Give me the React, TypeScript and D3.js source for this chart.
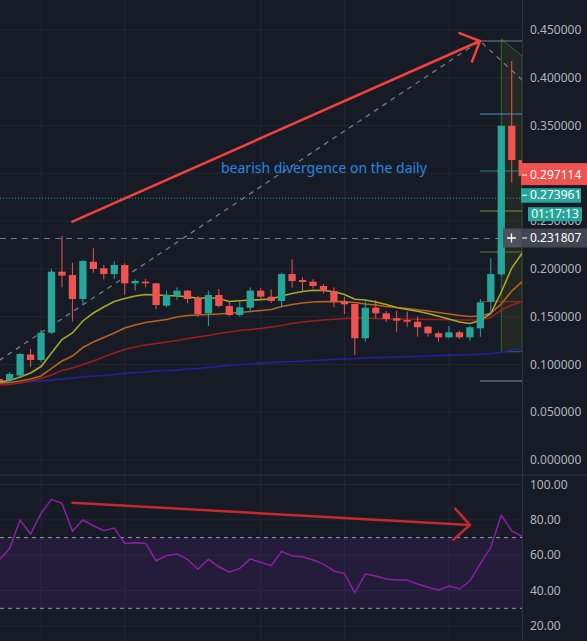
import React from 'react';
import * as d3 from 'd3';

const W = 587;
const H = 641;

const openP = [
  0.0848, 0.0837, 0.0884, 0.1104, 0.1047, 0.1332, 0.1971, 0.1936, 0.1685, 0.2075,
  0.2006, 0.1946, 0.2041, 0.1849, 0.1866, 0.1849, 0.1615, 0.1719, 0.1772, 0.1692,
  0.1535, 0.1727, 0.1612, 0.1517, 0.1594, 0.1772, 0.1709, 0.1664, 0.1946, 0.1884,
  0.1866, 0.1821, 0.1769, 0.1657, 0.1633, 0.1274, 0.1594, 0.1535, 0.1483, 0.1465,
  0.1447, 0.1395, 0.1326, 0.1284, 0.1336, 0.1284, 0.1378, 0.1657, 0.1943, 0.3498, 0.3139,
];
const highP = [
  0.0869, 0.0921, 0.1120, 0.1162, 0.1360, 0.1999, 0.2347, 0.2065, 0.2093, 0.2215,
  0.2041, 0.2082, 0.2058, 0.1891, 0.1894, 0.1852, 0.1772, 0.1807, 0.1779, 0.1716,
  0.1772, 0.1789, 0.1657, 0.1657, 0.1807, 0.1797, 0.1786, 0.1960, 0.2100, 0.1912,
  0.1891, 0.1839, 0.1807, 0.1709, 0.1633, 0.1685, 0.1674, 0.1559, 0.1559, 0.1552,
  0.1500, 0.1402, 0.1343, 0.1402, 0.1353, 0.1402, 0.1685, 0.2111, 0.3498, 0.4175, 0.3150,
];
const lowP = [
  0.0806, 0.0827, 0.0869, 0.0973, 0.1026, 0.1319, 0.1807, 0.1447, 0.1633, 0.1960,
  0.1891, 0.1894, 0.1727, 0.1772, 0.1807, 0.1580, 0.1598, 0.1674, 0.1640, 0.1500,
  0.1402, 0.1598, 0.1507, 0.1500, 0.1562, 0.1674, 0.1646, 0.1598, 0.1803, 0.1772,
  0.1797, 0.1744, 0.1598, 0.1528, 0.1099, 0.1238, 0.1483, 0.1447, 0.1343, 0.1395,
  0.1290, 0.1290, 0.1238, 0.1274, 0.1266, 0.1248, 0.1290, 0.1517, 0.1925, 0.2902, 0.2951,
];
const closeP = [
  0.0827, 0.0900, 0.1109, 0.1047, 0.1332, 0.1971, 0.1929, 0.1685, 0.2082, 0.1999,
  0.1946, 0.2041, 0.1849, 0.1873, 0.1849, 0.1622, 0.1727, 0.1772, 0.1685, 0.1528,
  0.1727, 0.1612, 0.1517, 0.1598, 0.1772, 0.1709, 0.1664, 0.1946, 0.1873, 0.1863,
  0.1821, 0.1769, 0.1657, 0.1629, 0.1274, 0.1594, 0.1535, 0.1476, 0.1458, 0.1447,
  0.1389, 0.1326, 0.1284, 0.1336, 0.1284, 0.1389, 0.1650, 0.1946, 0.3498, 0.3139, 0.2971,
];

const maFast = [
  0.0816, 0.0832, 0.0869, 0.0910, 0.0978, 0.1120, 0.1261, 0.1329, 0.1455, 0.1538,
  0.1601, 0.1659, 0.1690, 0.1716, 0.1732, 0.1727, 0.1721, 0.1716, 0.1709, 0.1692,
  0.1698, 0.1690, 0.1659, 0.1667, 0.1674, 0.1678, 0.1685, 0.1716, 0.1742, 0.1763,
  0.1776, 0.1774, 0.1761, 0.1732, 0.1682, 0.1674, 0.1653, 0.1627, 0.1596, 0.1575,
  0.1556, 0.1533, 0.1504, 0.1476, 0.1444, 0.1428, 0.1460, 0.1533, 0.1758, 0.2009, 0.2166,
];
const maMid = [
  0.0806, 0.0811, 0.0827, 0.0848, 0.0879, 0.0958, 0.1036, 0.1088, 0.1177, 0.1235,
  0.1282, 0.1329, 0.1381, 0.1413, 0.1439, 0.1455, 0.1470, 0.1496, 0.1512, 0.1517,
  0.1523, 0.1528, 0.1535, 0.1544, 0.1554, 0.1565, 0.1575, 0.1606, 0.1627, 0.1643,
  0.1653, 0.1657, 0.1657, 0.1657, 0.1648, 0.1633, 0.1622, 0.1606, 0.1596, 0.1585,
  0.1573, 0.1559, 0.1544, 0.1528, 0.1512, 0.1502, 0.1507, 0.1538, 0.1633, 0.1769, 0.1866,
];
const maSlow = [
  0.0785, 0.0790, 0.0806, 0.0827, 0.0853, 0.0890, 0.0937, 0.0963, 0.0999, 0.1036,
  0.1078, 0.1120, 0.1156, 0.1183, 0.1203, 0.1219, 0.1235, 0.1251, 0.1272, 0.1287,
  0.1303, 0.1324, 0.1340, 0.1355, 0.1366, 0.1376, 0.1392, 0.1408, 0.1428, 0.1444,
  0.1455, 0.1465, 0.1473, 0.1479, 0.1483, 0.1483, 0.1481, 0.1478, 0.1476, 0.1476,
  0.1473, 0.1472, 0.1470, 0.1468, 0.1465, 0.1465, 0.1465, 0.1491, 0.1570, 0.1622, 0.1659,
];
const maLong = [
  0.0801, 0.0806, 0.0811, 0.0816, 0.0827, 0.0837, 0.0848, 0.0858, 0.0869, 0.0879,
  0.0884, 0.0895, 0.0905, 0.0916, 0.0921, 0.0931, 0.0937, 0.0942, 0.0952, 0.0958,
  0.0968, 0.0978, 0.0989, 0.0999, 0.1005, 0.1015, 0.1020, 0.1026, 0.1031, 0.1036,
  0.1041, 0.1047, 0.1054, 0.1057, 0.1062, 0.1067, 0.1071, 0.1075, 0.1078, 0.1081,
  0.1085, 0.1088, 0.1092, 0.1096, 0.1099, 0.1102, 0.1106, 0.1112, 0.1130, 0.1151, 0.1169,
];

const rsi = [
  57.3, 63.9, 79.9, 72.0, 83.7, 91.6, 89.4, 73.7, 79.9, 76.7,
  73.9, 75.4, 66.7, 67.1, 66.7, 56.9, 59.7, 60.7, 57.7, 52.1,
  57.7, 53.5, 50.4, 52.6, 57.9, 56.0, 54.1, 62.2, 59.6, 59.2,
  57.3, 55.0, 51.1, 49.8, 38.8, 49.4, 48.3, 46.6, 46.0, 46.0,
  43.7, 41.9, 40.4, 42.6, 40.9, 45.4, 55.3, 64.5, 82.7, 73.7, 70.6,
];

const priceTicks = [0, 0.05, 0.1, 0.15, 0.2, 0.25, 0.3, 0.35, 0.4, 0.45];
const rsiTicks = [20, 40, 60, 80, 100];
const rsiBands = [70, 30];
const timeGridIdx = [4, 12, 25, 33, 43];

// horizontal levels drawn from candle 46 to the right edge
const levelValues = [0.4385, 0.3621, 0.3024, 0.2606, 0.2177, 0.1657, 0.0827];
const levelColors = ['#787b86', '#4f8fd8', '#1f8f84', '#6f9a3a', '#5f7a3c', '#9c2a2a', '#8a8d96'];

const lastPrice = 0.297114;
const linePrice = 0.273961;
const crossPrice = 0.231807;
const countdown = '01:17:13';
const note = 'bearish divergence on the daily';

const BG = '#171b26';
const GRID = '#232733';
const TXT = '#b2b5be';
const UP = '#26a69a';
const DOWN = '#ef5350';
const FONT = '"Noto Sans", sans-serif';

const CHART_R = 522;

function arrowHead(fx: number, fy: number, tx: number, ty: number, len: number) {
  const a = Math.atan2(fy - ty, fx - tx);
  const p1 = [tx + len * Math.cos(a + Math.PI / 4), ty + len * Math.sin(a + Math.PI / 4)];
  const p2 = [tx + len * Math.cos(a - Math.PI / 4), ty + len * Math.sin(a - Math.PI / 4)];
  return `M${p1[0]},${p1[1]}L${tx},${ty}L${p2[0]},${p2[1]}`;
}

export default function App() {
  const x = d3.scaleLinear().domain([0, 50]).range([-0.8, 522.2]);
  const y = d3.scaleLinear().domain([0, 0.45]).range([460, 30]);
  const yr = d3.scaleLinear().domain([20, 100]).range([626, 484.5]);
  const bw = 7.3;

  const idx = d3.range(openP.length);
  const maLine = (arr: number[]) =>
    d3.line<number>().x((_, i) => x(i)).y((d) => y(d))(arr) || '';
  const rsiLine = d3.line<number>().x((_, i) => x(i)).y((d) => yr(d))(rsi) || '';

  const fmtP = (v: number) => v.toFixed(6);

  const pa = { fx: x(7), fy: y(0.2494), tx: x(46) - 0.4, ty: y(0.4385) };
  const ra = { fx: x(7), fy: yr(89.7), tx: x(45), ty: yr(77.1) };

  return (
    <div style={{ position: 'absolute', left: 0, top: 0 }}>
      <svg width={W} height={H} style={{ display: 'block', background: BG }}>
        <defs>
          <clipPath id="pc">
            <rect x={0} y={0} width={CHART_R} height={474} />
          </clipPath>
          <clipPath id="rc">
            <rect x={0} y={476} width={CHART_R} height={H - 476} />
          </clipPath>
        </defs>
        <rect x={0} y={0} width={W} height={H} fill={BG} />

        {priceTicks.map((t) => (
          <line key={'pg' + t} x1={0} x2={CHART_R} y1={y(t)} y2={y(t)} stroke={GRID} strokeWidth={1} />
        ))}
        {timeGridIdx.map((i) => (
          <line key={'tg' + i} x1={x(i)} x2={x(i)} y1={0} y2={H} stroke={GRID} strokeWidth={1} />
        ))}
        {rsiTicks.map((t) => (
          <line key={'rg' + t} x1={0} x2={CHART_R} y1={yr(t)} y2={yr(t)} stroke={GRID} strokeWidth={1} />
        ))}

        <g clipPath="url(#pc)">
          <path
            d={`M${x(48)},${y(0.4406)}L${x(50)},${y(0.4228)}L${x(50)},${y(0.1133)}L${x(48)},${y(0.1133)}Z`}
            fill="rgba(90,95,20,0.2)"
            stroke="#2c6b2f"
            strokeWidth={1}
          />
          {levelValues.map((v, k) => (
            <line key={'lv' + k} x1={x(46) - 0.4} x2={CHART_R} y1={y(v)} y2={y(v)} stroke={levelColors[k]} strokeWidth={1} />
          ))}
          <path
            d={`M${x(0)},${y(0.1042)}L${pa.tx},${pa.ty}L${x(50)},${y(0.3977)}`}
            fill="none"
            stroke="#787b86"
            strokeWidth={1.3}
            strokeDasharray="5,5"
          />
          <line x1={0} x2={CHART_R} y1={y(linePrice)} y2={y(linePrice)} stroke={UP} strokeWidth={1} strokeDasharray="1,2" />
          <line x1={0} x2={503} y1={y(crossPrice)} y2={y(crossPrice)} stroke="#787b86" strokeWidth={1} strokeDasharray="6,5" />

          <path d={maLine(maLong)} fill="none" stroke="#2020a0" strokeWidth={1.6} />
          <path d={maLine(maSlow)} fill="none" stroke="#a01c1c" strokeWidth={1.6} />
          <path d={maLine(maMid)} fill="none" stroke="#b8621a" strokeWidth={1.6} />
          <path d={maLine(maFast)} fill="none" stroke="#aaa826" strokeWidth={1.6} />

          {idx.map((i) => {
            const up = closeP[i] >= openP[i];
            const c = up ? UP : DOWN;
            const top = y(Math.max(openP[i], closeP[i]));
            const bot = y(Math.min(openP[i], closeP[i]));
            const cx = x(i);
            return (
              <g key={'c' + i}>
                <line x1={cx} x2={cx} y1={y(highP[i])} y2={y(lowP[i])} stroke={c} strokeWidth={1} />
                <rect x={cx - bw / 2} y={top} width={bw} height={Math.max(1, bot - top)} fill={c} />
              </g>
            );
          })}

          <line x1={pa.fx} y1={pa.fy} x2={pa.tx} y2={pa.ty} stroke="#f0443a" strokeWidth={2.5} strokeLinecap="round" />
          <path d={arrowHead(pa.fx, pa.fy, pa.tx, pa.ty, 22)} fill="none" stroke="#f0443a" strokeWidth={2.5} strokeLinecap="round" />

          <text x={221} y={173} fill="#2389e0" fontFamily={FONT} fontSize={14}>
            {note}
          </text>
        </g>

        <g clipPath="url(#rc)">
          <rect x={0} y={yr(rsiBands[0])} width={CHART_R} height={yr(rsiBands[1]) - yr(rsiBands[0])} fill="rgba(120,50,200,0.12)" />
          {rsiBands.map((b) => (
            <line key={'rb' + b} x1={0} x2={CHART_R} y1={yr(b)} y2={yr(b)} stroke="#9598a1" strokeWidth={1} strokeDasharray="4,4" />
          ))}
          <path d={rsiLine} fill="none" stroke="#8e1ea8" strokeWidth={1.5} />
          <line x1={ra.fx} y1={ra.fy} x2={ra.tx} y2={ra.ty} stroke="#c8272b" strokeWidth={2.5} strokeLinecap="round" />
          <path d={arrowHead(ra.fx, ra.fy, ra.tx, ra.ty, 22)} fill="none" stroke="#c8272b" strokeWidth={2.5} strokeLinecap="round" />
        </g>

        <line x1={CHART_R + 0.5} x2={CHART_R + 0.5} y1={0} y2={H} stroke="#2e323d" strokeWidth={1} />
        <line x1={0} x2={W} y1={475} y2={475} stroke="#2e323d" strokeWidth={1} />

        {priceTicks.map((t) => (
          <text key={'pl' + t} x={530} y={y(t)} dy="0.35em" fill={TXT} fontFamily={FONT} fontSize={12}>
            {fmtP(t)}
          </text>
        ))}
        {rsiTicks.map((t) => (
          <text key={'rl' + t} x={530} y={yr(t)} dy="0.35em" fill={TXT} fontFamily={FONT} fontSize={12}>
            {t.toFixed(2)}
          </text>
        ))}

        <rect x={521} y={y(lastPrice) - 13} width={66} height={22} fill={DOWN} />
        <line x1={522} x2={527} y1={y(lastPrice) - 1} y2={y(lastPrice) - 1} stroke="#fff" strokeWidth={1} />
        <text x={530} y={y(lastPrice) - 1.5} dy="0.35em" fill="#fff" fontFamily={FONT} fontSize={12}>
          {fmtP(lastPrice)}
        </text>

        <rect x={521} y={y(linePrice) - 10} width={60} height={14.5} fill={UP} />
        <line x1={522} x2={527} y1={y(linePrice) - 3} y2={y(linePrice) - 3} stroke="#fff" strokeWidth={1} />
        <text x={530} y={y(linePrice) - 3} dy="0.35em" fill="#fff" fontFamily={FONT} fontSize={12}>
          {fmtP(linePrice)}
        </text>
        <rect x={528} y={y(linePrice) + 9} width={54} height={14} fill={UP} />
        <text x={555} y={y(linePrice) + 16} dy="0.35em" textAnchor="middle" fill="#fff" fontFamily={FONT} fontSize={12}>
          {countdown}
        </text>

        <rect x={503} y={y(crossPrice) - 10} width={18} height={19} fill="#4e515c" />
        <rect x={521} y={y(crossPrice) - 10} width={66} height={19} fill="#434651" />
        <path
          d={`M${507},${y(crossPrice) - 0.5}h9M${511.5},${y(crossPrice) - 5}v9`}
          stroke="#fff"
          strokeWidth={1.3}
        />
        <line x1={522} x2={527} y1={y(crossPrice) - 0.5} y2={y(crossPrice) - 0.5} stroke="#fff" strokeWidth={1} />
        <text x={530} y={y(crossPrice) - 0.5} dy="0.35em" fill="#fff" fontFamily={FONT} fontSize={12}>
          {fmtP(crossPrice)}
        </text>
      </svg>
    </div>
  );
}
